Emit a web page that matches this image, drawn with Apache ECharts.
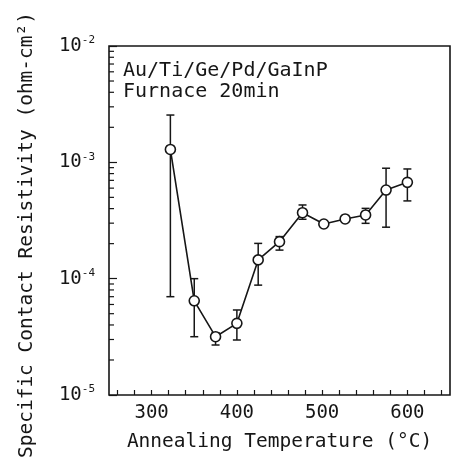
<!DOCTYPE html>
<html>
<head>
<meta charset="utf-8">
<script src="https://cdn.jsdelivr.net/npm/echarts@6/dist/echarts.min.js"></script>
<style>html,body{margin:0;padding:0;background:#fff;}#c{width:453px;height:464px;}</style>
</head>
<body>
<div id="c"></div>
<script>
// ---- data ----
const temperatures = [322, 350, 375, 400, 425, 450, 477, 502, 527, 551, 575, 600];
const resistivity  = [1.29e-3, 6.45e-5, 3.17e-5, 4.13e-5, 1.45e-4, 2.08e-4, 3.69e-4, 2.95e-4, 3.26e-4, 3.53e-4, 5.78e-4, 6.73e-4];
const errorUpper   = [2.55e-3, 1.0e-4, 3.43e-5, 5.38e-5, 2.01e-4, 2.3e-4, 4.3e-4, null, null, 4.02e-4, 8.9e-4, 8.77e-4];
const errorLower   = [7.0e-5, 3.17e-5, 2.69e-5, 2.97e-5, 8.8e-5, 1.76e-4, 3.24e-4, null, null, 2.99e-4, 2.77e-4, 4.66e-4];
const xTickLabels  = [300, 400, 500, 600];
const minorMultipliers = [2, 3, 4, 5, 6, 7, 8, 9];
const decadeExponents  = [-5, -4, -3];
const annotation   = ['Au/Ti/Ge/Pd/GaInP', 'Furnace 20min'];
const xTitle = 'Annealing Temperature (°C)';
const yTitle = 'Specific Contact Resistivity (ohm-cm²)';

// ---- layout ----
const W = 453, H = 464;
const G = {left: 109, right: 3, top: 46, bottom: 69};
const xMin = 250, xMax = 650;
const yMin = 1e-5, yMax = 1e-2;
const pxPerUnit = (W - G.left - G.right) / (xMax - xMin);
const FONT = "'DejaVu Sans Mono', monospace";
const INK = '#161616';

const lineData = temperatures.map((t, i) => [t, resistivity[i]]);
const errData = [];
temperatures.forEach((t, i) => {
  if (errorUpper[i] != null && errorLower[i] != null) errData.push([t, errorLower[i], errorUpper[i]]);
});
// log-axis minor tick values 2..9 x 10^n
const minorTickValues = [];
decadeExponents.forEach(e => minorMultipliers.forEach(k => minorTickValues.push([xMin, k * Math.pow(10, e)])));

const chart = echarts.init(document.getElementById('c'), null, {renderer: 'canvas'});
chart.setOption({
  animation: false,
  backgroundColor: '#fff',
  title: {
    text: annotation.join('\n'),
    left: 123, top: 60, padding: 0,
    textStyle: {fontFamily: FONT, fontSize: 20, fontWeight: 'normal', color: INK, lineHeight: 21}
  },
  graphic: [{
    type: 'text', x: 27, y: 235, rotation: Math.PI / 2,
    style: {text: yTitle, font: "19.5px 'DejaVu Sans Mono', monospace", fill: INK,
            align: 'center', verticalAlign: 'middle', textAlign: 'center', textVerticalAlign: 'middle'}
  }],
  grid: [
    {left: G.left, right: G.right, top: G.top, bottom: G.bottom, show: true,
     borderColor: INK, borderWidth: 1.6, backgroundColor: 'transparent'},
    {left: G.left + (260 - xMin) * pxPerUnit, right: G.right + (xMax - 640) * pxPerUnit,
     top: G.top, bottom: G.bottom}
  ],
  xAxis: [
    {gridIndex: 0, type: 'value', min: xMin, max: xMax, interval: 50,
     axisLine: {show: false, onZero: false}, axisTick: {show: false}, splitLine: {show: false},
     axisLabel: {margin: 9, color: INK, fontFamily: FONT, fontSize: 19,
       formatter: v => xTickLabels.indexOf(v) >= 0 ? String(v) : ''},
     name: xTitle, nameLocation: 'middle', nameGap: 37,
     nameTextStyle: {fontFamily: FONT, fontSize: 19.5, color: INK}},
    {gridIndex: 1, type: 'value', min: 260, max: 640, interval: 20, position: 'bottom',
     axisLine: {show: false, onZero: false}, splitLine: {show: false}, axisLabel: {show: false},
     axisTick: {show: true, inside: true, length: 5, lineStyle: {color: INK, width: 1.2}}}
  ],
  yAxis: [
    {gridIndex: 0, type: 'log', logBase: 10, min: yMin, max: yMax,
     axisLine: {show: false, onZero: false}, splitLine: {show: false},
     axisTick: {show: true, inside: true, length: 8, lineStyle: {color: INK, width: 1.2}},
     axisLabel: {margin: 14, color: INK,
       formatter: v => '{b|10}{s|-' + Math.round(-Math.log10(v)) + '}',
       rich: {b: {fontFamily: FONT, fontSize: 19, color: INK, lineHeight: 22},
              s: {fontFamily: FONT, fontSize: 11, color: INK, verticalAlign: 'top', lineHeight: 11}}}},
    {gridIndex: 1, type: 'value', min: 0, max: 1, show: false}
  ],
  series: [
    {type: 'custom', xAxisIndex: 0, yAxisIndex: 0, data: minorTickValues, z: 5, silent: true,
     renderItem: function (params, api) {
       const p = api.coord([api.value(0), api.value(1)]);
       return {type: 'line', shape: {x1: p[0], y1: p[1], x2: p[0] + 5, y2: p[1]},
               style: {stroke: INK, lineWidth: 1.2}};
     }},
    {type: 'custom', xAxisIndex: 0, yAxisIndex: 0, data: errData, z: 2,
     renderItem: function (params, api) {
       const x = api.value(0);
       const lo = api.coord([x, api.value(1)]);
       const hi = api.coord([x, api.value(2)]);
       const cap = 4;
       const st = {stroke: INK, lineWidth: 1.5};
       return {type: 'group', children: [
         {type: 'line', shape: {x1: lo[0], y1: lo[1], x2: hi[0], y2: hi[1]}, style: st},
         {type: 'line', shape: {x1: hi[0] - cap, y1: hi[1], x2: hi[0] + cap, y2: hi[1]}, style: st},
         {type: 'line', shape: {x1: lo[0] - cap, y1: lo[1], x2: lo[0] + cap, y2: lo[1]}, style: st}
       ]};
     }},
    {type: 'line', xAxisIndex: 0, yAxisIndex: 0, data: lineData, z: 3,
     symbol: 'circle', symbolSize: 10, showSymbol: true,
     lineStyle: {color: INK, width: 1.6},
     itemStyle: {color: '#fff', borderColor: INK, borderWidth: 1.6}}
  ]
});
</script>
</body>
</html>
